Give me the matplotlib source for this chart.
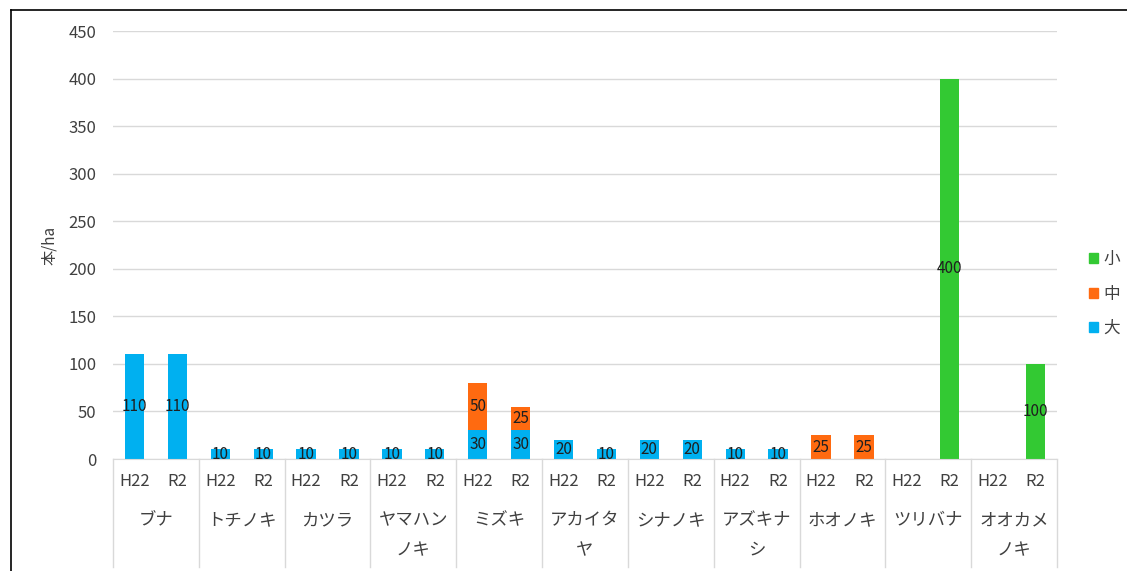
import matplotlib
matplotlib.use("Agg")
import matplotlib.pyplot as plt
import matplotlib.transforms as mtransforms
from matplotlib.lines import Line2D
from matplotlib.patches import Patch
import numpy as np

plt.rcParams['font.family'] = ['Noto Sans CJK JP', 'DejaVu Sans']

species = ["ブナ", "トチノキ", "カツラ", "ヤマハン\nノキ", "ミズキ", "アカイタ\nヤ",
           "シナノキ", "アズキナ\nシ", "ホオノキ", "ツリバナ", "オオカメ\nノキ"]
years = ["H22", "R2"]

# per species: (H22, R2)
large = [110, 110, 10, 10, 10, 10, 10, 10, 30, 30, 20, 10, 20, 20, 10, 10, 0, 0, 0, 0, 0, 0]
medium = [0, 0, 0, 0, 0, 0, 0, 0, 50, 25, 0, 0, 0, 0, 0, 0, 25, 25, 0, 0, 0, 0]
small = [0, 0, 0, 0, 0, 0, 0, 0, 0, 0, 0, 0, 0, 0, 0, 0, 0, 0, 0, 400, 0, 100]

c_large = "#00B0F0"
c_medium = "#FF6A10"
c_small = "#33C933"
grid_c = "#D9D9D9"
text_c = "#404040"

W, H = 1127, 571
fig = plt.figure(figsize=(W / 100, H / 100), dpi=100)
ax = fig.add_axes([113 / W, 1 - 459 / H, (1057 - 113) / W, (459 - 31) / H])

x = np.arange(len(large))
large = np.array(large)
medium = np.array(medium)
small = np.array(small)

b1 = ax.bar(x, large, width=0.45, color=c_large, zorder=2)
b2 = ax.bar(x, medium, width=0.45, bottom=large, color=c_medium, zorder=2)
b3 = ax.bar(x, small, width=0.45, bottom=large + medium, color=c_small, zorder=2)

for bars, vals in [(b1, large), (b2, medium), (b3, small)]:
    labels = [str(v) if v > 0 else "" for v in vals]
    ax.bar_label(bars, labels=labels, label_type="center", fontsize=11,
                 color="#1F1F1F", zorder=3)

ax.set_xlim(-0.5, len(x) - 0.5)
ax.set_ylim(0, 450)
ax.set_yticks(np.arange(0, 451, 50))
ax.tick_params(axis="y", length=0, labelsize=12, labelcolor=text_c, pad=12)
ax.yaxis.grid(True, color=grid_c, linewidth=1)
ax.set_axisbelow(True)
for s in ["top", "right", "left"]:
    ax.spines[s].set_visible(False)
ax.spines["bottom"].set_color(grid_c)

ax.set_xticks(x)
ax.set_xticklabels(years * len(species))
ax.tick_params(axis="x", length=0, labelsize=12, labelcolor=text_c, pad=10)

ax.set_ylabel("本/ha", fontsize=11, color=text_c)
ax.yaxis.set_label_coords(-0.058, 0.5)

# group separators and species names under the axis
trans = mtransforms.blended_transform_factory(ax.transData, ax.transAxes)
sep_bottom = ((H - 567) / H - (1 - 459 / H)) / ((459 - 31) / H)
for k in range(len(species) + 1):
    xs = 2 * k - 0.5
    ax.add_line(Line2D([xs, xs], [0, sep_bottom], transform=trans,
                       color=grid_c, linewidth=1, clip_on=False))
name_y = -(511 - 459) / (459 - 31)
for k, name in enumerate(species):
    ax.text(2 * k + 0.5, name_y, name, transform=trans, ha="center", va="top",
            fontsize=12.5, color=text_c, linespacing=1.85)

handles = [Patch(color=c_small, label="小"), Patch(color=c_medium, label="中"),
           Patch(color=c_large, label="大")]
fig.legend(handles=handles, loc="upper left", bbox_to_anchor=(1074 / W, 1 - 236 / H),
           frameon=False, fontsize=12, labelcolor=text_c, handlelength=0.55,
           handleheight=0.55, handletextpad=0.3, labelspacing=1.05)

# chart frame
fig.add_artist(Line2D([10.5 / W, 10.5 / W], [0, 1 - 10 / H], color="black", linewidth=1.2))
fig.add_artist(Line2D([10.5 / W, 1], [1 - 10 / H, 1 - 10 / H], color="black", linewidth=1.2))

fig.savefig("out.png", dpi=100)
